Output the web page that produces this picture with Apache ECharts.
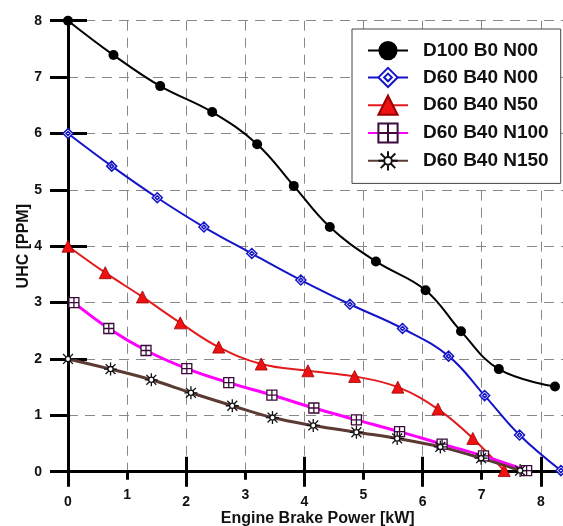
<!DOCTYPE html>
<html>
<head>
<meta charset="utf-8">
<script src="https://cdn.jsdelivr.net/npm/echarts@6/dist/echarts.min.js"></script>
<style>
html,body{margin:0;padding:0;background:#fff;}
#chart{width:563px;height:526px;}
</style>
</head>
<body>
<div id="chart"></div>
<script>
// ---- data ----
const seriesNames = ['D100 B0 N00', 'D60 B40 N00', 'D60 B40 N50', 'D60 B40 N100', 'D60 B40 N150'];

const xD100 = [0, 0.77, 1.56, 2.44, 3.20, 3.82, 4.43, 5.21, 6.05, 6.65, 7.29, 8.24];
const yD100 = [8, 7.39, 6.84, 6.38, 5.81, 5.07, 4.34, 3.73, 3.22, 2.49, 1.82, 1.51];

const xN00 = [0, 0.74, 1.51, 2.30, 3.11, 3.94, 4.77, 5.66, 6.44, 7.05, 7.64, 8.34];
const yN00 = [6, 5.42, 4.86, 4.34, 3.87, 3.40, 2.97, 2.54, 2.05, 1.35, 0.65, 0.02];

const xN50 = [0, 0.63, 1.26, 1.90, 2.55, 3.27, 4.06, 4.85, 5.58, 6.26, 6.85, 7.38];
const yN50 = [4, 3.53, 3.10, 2.64, 2.21, 1.91, 1.79, 1.69, 1.50, 1.11, 0.59, 0.02];

const xN100 = [0.10, 0.69, 1.32, 2.01, 2.72, 3.45, 4.16, 4.88, 5.61, 6.33, 7.03, 7.76];
const yN100 = [3.00, 2.54, 2.15, 1.83, 1.58, 1.36, 1.13, 0.92, 0.71, 0.49, 0.28, 0.02];

const xN150 = [0, 0.72, 1.41, 2.08, 2.78, 3.46, 4.15, 4.88, 5.57, 6.30, 6.99, 7.65];
const yN150 = [2, 1.82, 1.63, 1.40, 1.17, 0.96, 0.82, 0.70, 0.59, 0.44, 0.24, 0.02];

const xMin = 0, xMax = 8.45, yMin = 0, yMax = 8;
const xTickStep = 1, yTickStep = 1;

function pairs(xs, ys) { return xs.map((x, i) => [x, ys[i]]); }

const FONT = 'Liberation Sans, Arial, sans-serif';
const tickStyle = { color: '#000', width: 3 };

const diamondPath = 'path://M0,5 L5,0 L10,5 L5,10 Z M3,5 L5,3 L7,5 L5,7 Z';
const gridSquarePath = 'path://M0,0 L10,0 L10,10 L0,10 Z M5,0 L5,10 M0,5 L10,5';
const sunPath = 'path://M3,5 A2,2 0 1 1 7,5 A2,2 0 1 1 3,5 Z M5,0 L5,3 M5,7 L5,10 M0,5 L3,5 M7,5 L10,5 M1.2,1.2 L3.6,3.6 M6.4,6.4 L8.8,8.8 M8.8,1.2 L6.4,3.6 M3.6,6.4 L1.2,8.8';

const chart = echarts.init(document.getElementById('chart'), null, { renderer: 'canvas' });

const option = {
  backgroundColor: '#ffffff',
  animation: false,
  textStyle: { fontFamily: FONT },
  grid: { left: 68, top: 20.7, width: 499.4, height: 451, containLabel: false, outerBoundsMode: 'none' },
  legend: {
    data: seriesNames,
    orient: 'vertical',
    left: 352, top: 29,
    padding: [12, 12, 12, 15],
    itemWidth: 40, itemHeight: 24, itemGap: 6.6,
    backgroundColor: '#fff',
    borderColor: '#444', borderWidth: 1,
    selectedMode: false,
    textStyle: { fontFamily: FONT, fontWeight: 'bold', fontSize: 19, color: '#111', padding: [0, 0, 0, 10] }
  },
  xAxis: [
    {
      type: 'value', min: xMin, max: xMax, interval: xTickStep,
      name: 'Engine Brake Power [kW]', nameLocation: 'middle', nameGap: 39, nameMoveOverlap: false,
      nameTextStyle: { fontFamily: FONT, fontWeight: 'bold', fontSize: 16, color: '#111' },
      axisLine: { onZero: false, lineStyle: { color: '#000', width: 3 } },
      axisTick: { length: 8, lineStyle: tickStyle },
      axisLabel: {
        margin: 13, fontFamily: FONT, fontWeight: 'bold', fontSize: 14, color: '#111',
        formatter: function (v) {
          if (Math.abs(v - Math.round(v)) > 1e-6) return '';
          return (Math.round(v) % 2 === 0 ? '{e|' : '{o|') + Math.round(v) + '}';
        },
        rich: {
          e: { lineHeight: 34, fontFamily: FONT, fontWeight: 'bold', fontSize: 14, color: '#111' },
          o: { lineHeight: 20, fontFamily: FONT, fontWeight: 'bold', fontSize: 14, color: '#111' }
        }
      },
      splitLine: { show: true, lineStyle: { color: '#888', width: 1, type: [10, 7] } }
    },
    {
      type: 'value', min: xMin, max: xMax, interval: 2, position: 'bottom',
      axisLine: { show: false, onZero: false }, axisLabel: { show: false }, splitLine: { show: false },
      axisTick: { inside: true, length: 15, lineStyle: tickStyle }
    },
    {
      type: 'value', min: xMin, max: xMax, interval: 2, position: 'bottom',
      axisLine: { show: false, onZero: false }, axisLabel: { show: false }, splitLine: { show: false },
      axisTick: { inside: false, length: 15, lineStyle: tickStyle }
    }
  ],
  yAxis: [
    {
      type: 'value', min: yMin, max: yMax, interval: yTickStep, position: 'left',
      name: 'UHC [PPM]', nameLocation: 'middle', nameGap: 36, nameMoveOverlap: false,
      nameTextStyle: { fontFamily: FONT, fontWeight: 'bold', fontSize: 16, color: '#111' },
      axisLine: { onZero: false, lineStyle: { color: '#000', width: 3 } },
      axisTick: { length: 18, lineStyle: tickStyle },
      axisLabel: { margin: 26, fontFamily: FONT, fontWeight: 'bold', fontSize: 14, color: '#111' },
      splitLine: { show: true, lineStyle: { color: '#888', width: 1, type: [10, 7] } }
    },
    {
      type: 'value', min: yMin, max: yMax, interval: 2, position: 'left',
      axisLine: { show: false, onZero: false }, axisLabel: { show: false }, splitLine: { show: false },
      axisTick: { inside: true, length: 19, lineStyle: tickStyle }
    }
  ],
  series: [
    {
      name: seriesNames[0], type: 'line', smooth: 0.4, clip: false,
      data: pairs(xD100, yD100),
      symbol: 'circle', symbolSize: 10,
      lineStyle: { color: '#000', width: 2 },
      itemStyle: { color: '#000', borderColor: '#000', borderWidth: 0 }
    },
    {
      name: seriesNames[1], type: 'line', smooth: 0.4, clip: false,
      data: pairs(xN00, yN00),
      symbol: diamondPath, symbolSize: 10,
      lineStyle: { color: '#1414c8', width: 2 },
      itemStyle: { color: '#ffffff', borderColor: '#1414c8', borderWidth: 1.5 }
    },
    {
      name: seriesNames[2], type: 'line', smooth: 0.4, clip: false,
      data: pairs(xN50, yN50),
      symbol: 'triangle', symbolSize: 12,
      lineStyle: { color: '#e41a1c', width: 2 },
      itemStyle: { color: '#ee1111', borderColor: '#990000', borderWidth: 0.8 }
    },
    {
      name: seriesNames[3], type: 'line', smooth: 0.4, clip: false,
      data: pairs(xN100, yN100),
      symbol: gridSquarePath, symbolSize: 10,
      lineStyle: { color: '#ff00ff', width: 3 },
      itemStyle: { color: '#ffffff', borderColor: '#3a0a3a', borderWidth: 1.3 }
    },
    {
      name: seriesNames[4], type: 'line', smooth: 0.4, clip: false,
      data: pairs(xN150, yN150),
      symbol: sunPath, symbolSize: 13,
      lineStyle: { color: '#5c3a34', width: 3 },
      itemStyle: { color: '#ffffff', borderColor: '#111', borderWidth: 1.3 }
    }
  ]
};
chart.setOption(option);
</script>
</body>
</html>
